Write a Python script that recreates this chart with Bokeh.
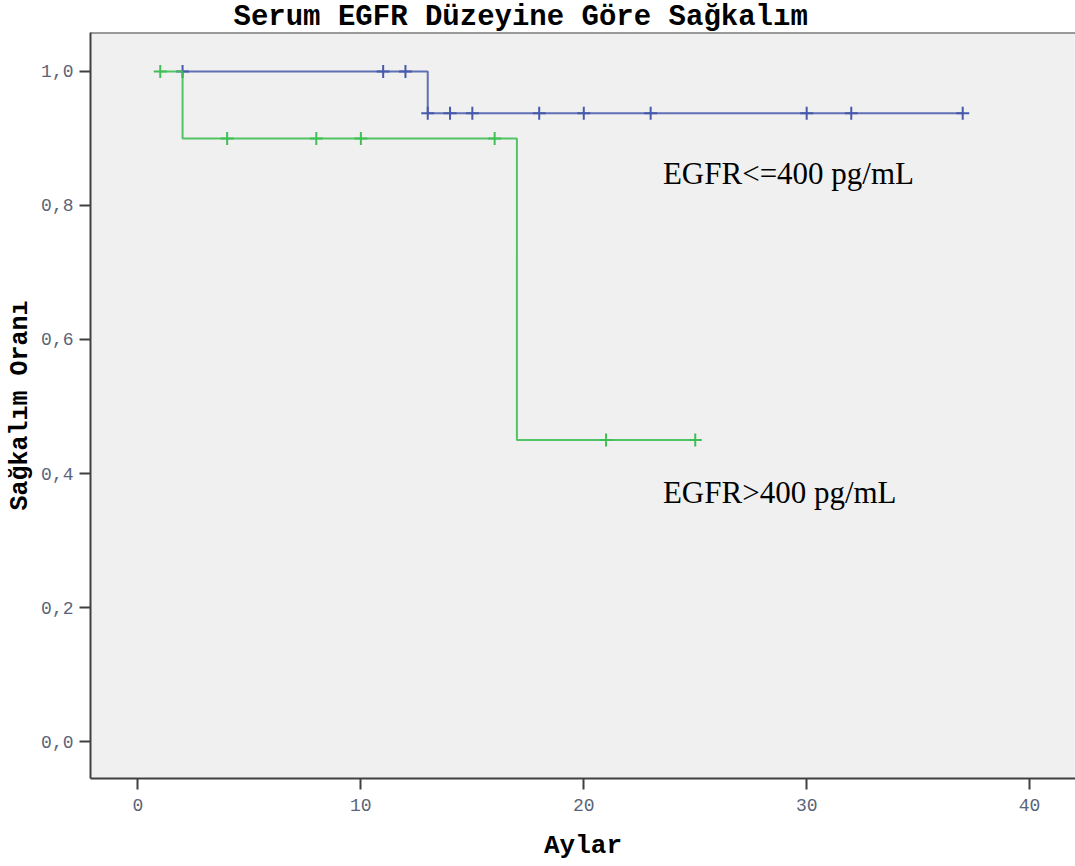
import numpy as np
from bokeh.plotting import figure
from bokeh.models import FixedTicker, CustomJSTickFormatter, Span, Range1d
from bokeh.core.properties import value
from bokeh.embed import file_html
from bokeh.resources import INLINE

# ---- data ----
title_text = "Serum EGFR Düzeyine Göre Sağkalım"
x_label = "Aylar"
y_label = "Sağkalım Oranı"

# EGFR<=400 pg/mL (blue)
low_times = [2, 13, 37]
low_surv = [1.0, 0.9375, 0.9375]
low_censor = [2, 11, 12, 13, 14, 15, 18, 20, 23, 30, 32, 37]

# EGFR>400 pg/mL (green)
high_times = [1, 2, 17, 25]
high_surv = [1.0, 0.9, 0.45, 0.45]
high_censor = [1, 4, 8, 10, 16, 21, 25]

group_labels = ["EGFR<=400 pg/mL", "EGFR>400 pg/mL"]
label_x = [23.55, 23.55]
label_y = [0.847, 0.371]

x_ticks = [0, 10, 20, 30, 40]
y_ticks = [0.0, 0.2, 0.4, 0.6, 0.8, 1.0]

BLUE = "#4759ab"
GREEN = "#3fbf55"
MONO = "Liberation Mono"


def surv_at(times, surv, t):
    idx = np.searchsorted(np.array(times), np.array(t), side="right") - 1
    return list(np.array(surv)[idx])


p = figure(width=1075, height=866, output_backend="svg", toolbar_location=None,
           x_range=Range1d(-2.13, 42.06), y_range=Range1d(-0.055, 1.058),
           min_border_left=90, min_border_right=0, min_border_top=31, min_border_bottom=88,
           title=title_text)

p.title.text_font = MONO
p.title.text_font_style = "bold"
p.title.text_font_size = "29px"
p.title.text_color = "black"
p.title.align = "left"
p.title.offset = 143
p.title.standoff = -3

p.background_fill_color = "#f0f0f0"
p.border_fill_color = "white"
p.outline_line_color = None
p.grid.visible = False

# axes styling
for ax in (p.xaxis[0], p.yaxis[0]):
    ax.axis_line_color = "#404040"
    ax.axis_line_width = 2
    ax.major_tick_line_color = "#404040"
    ax.major_tick_line_width = 2
    ax.major_tick_out = 11
    ax.major_tick_in = 0
    ax.minor_tick_line_color = None
    ax.major_label_text_font = MONO
    ax.major_label_text_font_size = "18px"
    ax.major_label_text_color = "#5a6478"
    ax.axis_label_text_font = MONO
    ax.axis_label_text_font_style = "bold"
    ax.axis_label_text_color = "black"

p.xaxis.ticker = FixedTicker(ticks=x_ticks)
p.yaxis.ticker = FixedTicker(ticks=y_ticks)
p.yaxis.formatter = CustomJSTickFormatter(code="return tick.toFixed(1).replace('.', ',');")
p.xaxis.axis_label = x_label
p.yaxis.axis_label = y_label
p.xaxis.axis_label_text_font_size = "26px"
p.yaxis.axis_label_text_font_size = "25px"
p.xaxis.major_label_standoff = 9
p.xaxis.axis_label_standoff = 17
p.yaxis.major_label_standoff = 6
p.yaxis.axis_label_standoff = 3

# top border of frame
p.add_layout(Span(location=p.y_range.end, dimension="width", line_color="#404040", line_width=2))

# curves
p.step(low_times, low_surv, mode="after", line_color=BLUE, line_width=2, line_alpha=0.85)
p.scatter(low_censor, surv_at(low_times, low_surv, low_censor), marker="cross", size=13,
          line_color=BLUE, line_width=2)
p.step(high_times, high_surv, mode="after", line_color=GREEN, line_width=2, line_alpha=0.9)
p.scatter(high_censor, surv_at(high_times, high_surv, high_censor), marker="cross", size=13,
          line_color=GREEN, line_width=2)

# group labels
p.text(x=label_x, y=label_y, text=group_labels, text_font=value("Liberation Serif"),
       text_font_size="31px", text_color="black", text_baseline="alphabetic")

open("out.html", "w").write(file_html(p, INLINE))
